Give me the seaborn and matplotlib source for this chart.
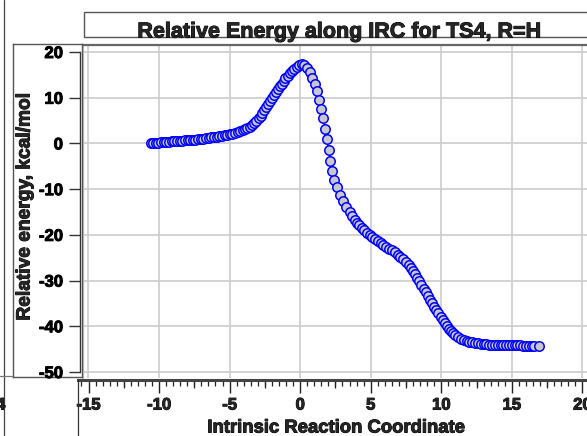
import matplotlib
matplotlib.use("Agg")
import matplotlib.pyplot as plt
import matplotlib.patheffects as pe
from matplotlib.lines import Line2D
from matplotlib.patches import Rectangle
from matplotlib.ticker import MultipleLocator, FixedLocator
import seaborn as sns
import pandas as pd

# ---- data ----
irc = [-10.6, -10.42, -10.23, -10.05, -9.86, -9.67, -9.48, -9.3, -9.11, -8.92,
       -8.73, -8.55, -8.36, -8.17, -7.98, -7.8, -7.61, -7.42, -7.23, -7.05,
       -6.86, -6.67, -6.48, -6.3, -6.11, -5.92, -5.73, -5.55, -5.36, -5.17,
       -4.98, -4.8, -4.62, -4.44, -4.26, -4.08, -3.91, -3.74, -3.57, -3.41,
       -3.25, -3.1, -2.95, -2.81, -2.67, -2.53, -2.4, -2.26, -2.13, -2.0,
       -1.87, -1.73, -1.6, -1.46, -1.32, -1.18, -1.04, -0.89, -0.74, -0.58,
       -0.42, -0.25, -0.08,
       0.1, 0.3, 0.5, 0.68, 0.85, 1.02, 1.18, 1.33, 1.48, 1.62,
       1.76, 1.89, 2.01, 2.13, 2.27, 2.43, 2.62, 2.83, 3.05, 3.28,
       3.5, 3.7, 3.88,
       4.04, 4.2, 4.37, 4.55, 4.73, 4.92, 5.11,
       5.3, 5.5, 5.7, 5.9, 6.1, 6.3, 6.5, 6.7, 6.9, 7.1,
       7.3, 7.5, 7.68, 7.85, 8.0, 8.15, 8.3, 8.45, 8.6, 8.75,
       8.9, 9.05, 9.2, 9.35, 9.5, 9.65, 9.8, 9.95, 10.1, 10.25,
       10.4, 10.55, 10.7, 10.85, 11.0, 11.2, 11.4, 11.6, 11.8, 12.0,
       12.2, 12.4, 12.6, 12.8, 13.0, 13.2, 13.4, 13.6, 13.8, 14.0,
       14.2, 14.4, 14.6, 14.8, 15.0, 15.2, 15.4, 15.6, 15.8, 16.0,
       16.2, 16.4, 16.6, 16.95]
energy = [0.0, 0.05, 0.1, 0.15, 0.25, 0.3, 0.35, 0.4, 0.45, 0.5,
          0.5, 0.55, 0.6, 0.65, 0.7, 0.75, 0.8, 0.85, 0.9, 1.0,
          1.05, 1.1, 1.2, 1.3, 1.35, 1.45, 1.55, 1.65, 1.75, 1.85,
          2.0, 2.1, 2.3, 2.45, 2.65, 2.85, 3.1, 3.4, 3.7, 4.05,
          4.5, 4.95, 5.5, 6.05, 6.65, 7.3, 7.95, 8.6, 9.25, 9.9,
          10.55, 11.2, 11.85, 12.5, 13.1, 13.7, 14.3, 14.85, 15.4, 15.9,
          16.35, 16.75, 17.05,
          17.3, 17.1, 16.6, 15.6, 14.4, 13.0, 11.4, 9.6, 7.6, 5.5,
          3.2, 0.9, -1.5, -3.9, -6.0, -7.9, -9.6, -11.2, -12.6, -13.9,
          -15.0, -15.9, -16.7,
          -17.4, -17.9, -18.5, -19.0, -19.5, -20.0, -20.5,
          -20.9, -21.4, -21.8, -22.2, -22.6, -23.0, -23.4, -23.8, -24.3, -24.8,
          -25.3, -25.9, -26.5, -27.2, -27.9, -28.6, -29.4, -30.2, -31.0, -31.8,
          -32.6, -33.4, -34.2, -35.0, -35.8, -36.5, -37.2, -37.9, -38.6, -39.3,
          -39.9, -40.5, -41.0, -41.5, -41.9, -42.3, -42.7, -43.0, -43.2, -43.4,
          -43.5, -43.6, -43.7, -43.8, -43.9, -43.9, -44.0, -44.0, -44.0, -44.1,
          -44.1, -44.1, -44.1, -44.2, -44.2, -44.2, -44.2, -44.2, -44.3, -44.3,
          -44.3, -44.3, -44.3, -44.4]
x_major_ticks = [-15, -10, -5, 0, 5, 10, 15, 20]
y_major_ticks = [20, 10, 0, -10, -20, -30, -40, -50]
title = "Relative Energy along IRC for TS4, R=H"
xlabel = "Intrinsic Reaction Coordinate"
ylabel = "Relative energy, kcal/mol"

df = pd.DataFrame({"irc": irc, "energy": energy})

sns.set_theme(style="white")
plt.rcParams["font.family"] = ["Liberation Sans", "DejaVu Sans"]
plt.rcParams["xtick.bottom"] = True
plt.rcParams["ytick.left"] = True

W, H = 587, 436
fig = plt.figure(figsize=(W / 100, H / 100), dpi=100)
HEAVY = [pe.withStroke(linewidth=0.7, foreground="black")]


def rect(x0, y0, x1, y1):
    return [x0 / W, 1 - y1 / H, (x1 - x0) / W, (y1 - y0) / H]


PXX = 14.11  # px per x unit
PXY = 4.571  # px per y unit
XMIN = -15 - 5.5 / PXX
YMAX = 20 + 7 / PXY
YMIN = -50 - 6 / PXY
TICK_FS = 12

# main plot area
ax = fig.add_axes(rect(83, 45, 587, 378))
sns.lineplot(data=df, x="irc", y="energy", sort=False, ax=ax, color="black",
             linewidth=0.8, marker="o", markersize=6.8,
             markerfacecolor="#c8c8c8", markeredgecolor="#0000ff",
             markeredgewidth=1.1, zorder=5)
ax.set_xlim(XMIN, XMIN + 504 / PXX)
ax.set_ylim(YMIN, YMAX)
ax.xaxis.set_major_locator(FixedLocator(x_major_ticks))
ax.yaxis.set_major_locator(FixedLocator(y_major_ticks))
ax.grid(True, color="#cccccc", linewidth=1.2)
ax.tick_params(length=0, labelleft=False, labelbottom=False, bottom=False,
               left=False)
ax.set_xlabel("")
ax.set_ylabel("")
ax.spines["right"].set_visible(False)
ax.spines["top"].set_color("#666666")
ax.spines["top"].set_linewidth(1.6)
ax.spines["left"].set_color("#cccccc")
ax.spines["left"].set_linewidth(1.0)
ax.spines["bottom"].set_visible(False)
ax.set_facecolor("white")

# left box for the y axis
axl = fig.add_axes(rect(13, 44, 82, 377))
axl.set_xticks([])
axl.set_yticks([])
axl.set_facecolor("none")
for s in axl.spines.values():
    s.set_color("#555555")
    s.set_linewidth(1.0)

# y axis line with ticks
ay = fig.add_axes(rect(79.5, 45, 80, 378))
ay.set_facecolor("none")
ay.set_ylim(YMIN, YMAX)
ay.set_xticks([])
ay.yaxis.set_major_locator(FixedLocator(y_major_ticks))
ay.set_yticklabels([str(v) for v in y_major_ticks], fontsize=TICK_FS,
                   fontweight="bold", color="black")
for t in ay.get_yticklabels():
    t.set_path_effects(HEAVY)
for s in ["top", "right", "bottom"]:
    ay.spines[s].set_visible(False)
ay.spines["left"].set_bounds(-50, 20)
ay.spines["left"].set_color("#333333")
ay.spines["left"].set_linewidth(1.0)
ay.tick_params(axis="y", left=True, direction="out", length=8, width=1.0,
               color="#333333", pad=4)

# bottom box / x axis
XMIN_B = -15 - 10.5 / PXX
ax_b = fig.add_axes(rect(78, 379, 600, 379.5))
ax_b.set_facecolor("none")
ax_b.set_xlim(XMIN_B, XMIN_B + 522 / PXX)
ax_b.set_yticks([])
ax_b.xaxis.set_major_locator(FixedLocator(x_major_ticks))
ax_b.xaxis.set_minor_locator(MultipleLocator(0.5))
ax_b.set_xticklabels([str(v) for v in x_major_ticks], fontsize=TICK_FS,
                     fontweight="bold")
for t in ax_b.get_xticklabels():
    t.set_path_effects(HEAVY)
for s in ["top", "right", "left"]:
    ax_b.spines[s].set_visible(False)
ax_b.spines["bottom"].set_color("#444444")
ax_b.spines["bottom"].set_linewidth(2.2)
ax_b.tick_params(axis="x", which="major", bottom=True, direction="out",
                 length=9, width=1.0, color="#222222", pad=4)
ax_b.tick_params(axis="x", which="minor", bottom=True, direction="out",
                 length=4.3, width=0.9, color="#222222")
sec = ax_b.secondary_xaxis("bottom")
sec.set_xticks([v + 2.5 for v in x_major_ticks[:-1]])
sec.set_xticklabels([])
sec.tick_params(bottom=True, direction="out", length=6, width=0.9,
                color="#222222")
sec.spines["bottom"].set_visible(False)

# bottom box left edge
fig.add_artist(Line2D([78 / W, 78 / W], [0, 1 - 379 / H], color="#333333",
                      linewidth=0.9))

# title box and title
fig.add_artist(Rectangle((84 / W, 1 - 37 / H), (620 - 84) / W, 25 / H,
                         transform=fig.transFigure, fill=False,
                         edgecolor="#555555", linewidth=1.0, zorder=1))
fig.text(339 / W, 1 - 37.5 / H, title, ha="center", va="baseline",
         fontsize=15.5, fontweight="bold", zorder=3, path_effects=HEAVY)

# axis labels
fig.text(336 / W, 1 - 428 / H, xlabel, ha="center", va="center",
         fontsize=13.3, fontweight="bold", path_effects=HEAVY)
fig.text(25 / W, 1 - 207 / H, ylabel, ha="center", va="center",
         rotation=90, fontsize=13.8, fontweight="bold", path_effects=HEAVY)

# outer frame remnants
fig.add_artist(Line2D([3.5 / W, 3.5 / W], [0, 1], color="#444444",
                      linewidth=0.9))
fig.add_artist(Line2D([0, 12 / W], [1 - 376 / H, 1 - 376 / H],
                      color="#777777", linewidth=0.9))
fig.text(-4 / W, 1 - 405 / H, "4", ha="left", va="center", fontsize=TICK_FS,
         fontweight="bold", path_effects=HEAVY)

fig.savefig("out.png", dpi=100)
